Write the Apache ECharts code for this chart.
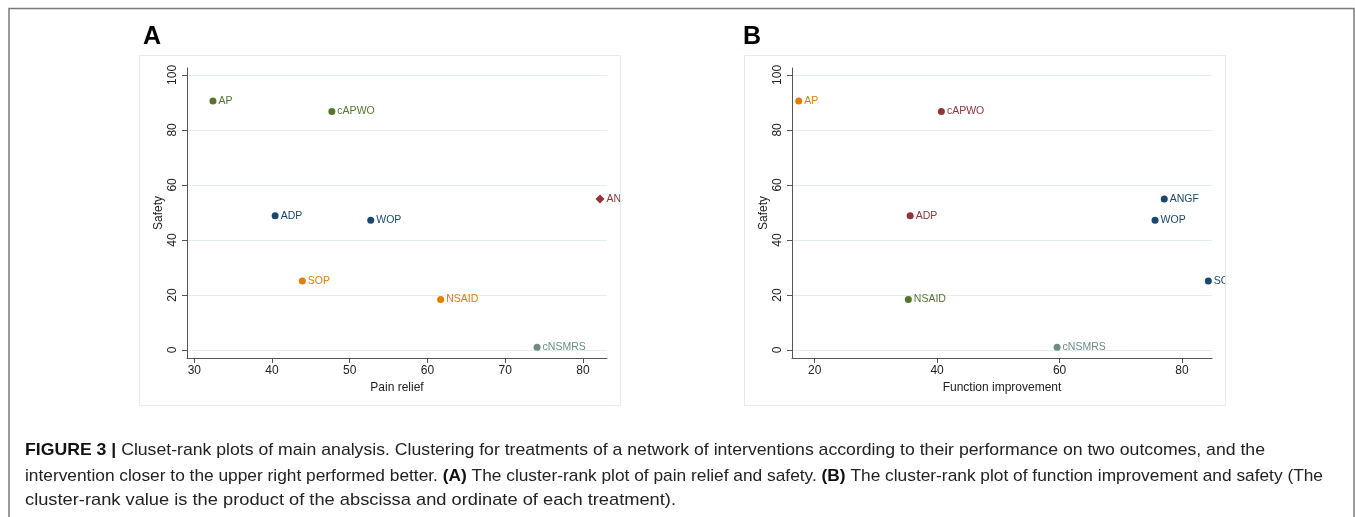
<!DOCTYPE html>
<html><head><meta charset="utf-8">
<script src="https://cdn.jsdelivr.net/npm/echarts@6/dist/echarts.min.js"></script>
<style>html,body{margin:0;padding:0;background:#fff}#c{width:1355px;height:517px}</style>
</head><body><div id="c"></div>
<script>
// ---- data ----
const treatments = ['AP', 'cAPWO', 'ANGF', 'ADP', 'WOP', 'SOP', 'NSAID', 'cNSMRS'];
const safety = [90.5, 86.7, 54.9, 48.8, 47.2, 25.1, 18.4, 1.0];
const painRelief = [32.4, 47.7, 82.2, 40.4, 52.7, 43.9, 61.7, 74.1];
const functionImprovement = [17.4, 40.7, 77.1, 35.6, 75.6, 84.3, 35.3, 59.6];
const clusterA = ['green', 'green', 'maroon', 'navy', 'navy', 'orange', 'orange', 'teal'];
const clusterB = ['orange', 'maroon', 'navy', 'maroon', 'navy', 'navy', 'green', 'teal'];
const xTicksA = [30, 40, 50, 60, 70, 80];
const xTicksB = [20, 40, 60, 80];
const yTicks = [0, 20, 40, 60, 80, 100];
const captionLines = [
  [['b', 'FIGURE 3 | '], ['n', 'Cluset-rank plots of main analysis. Clustering for treatments of a network of interventions according to their performance on two outcomes, and the']],
  [['n', 'intervention closer to the upper right performed better. '], ['b', '(A)'], ['n', ' The cluster-rank plot of pain relief and safety. '], ['b', '(B)'], ['n', ' The cluster-rank plot of function improvement and safety (The']],
  [['n', 'cluster-rank value is the product of the abscissa and ordinate of each treatment).']]
];

// ---- styles ----
const FONT = '"Liberation Sans", Arial, Helvetica, sans-serif';
const clusterColors = { navy: '#1a476f', maroon: '#90353b', green: '#55752f', orange: '#e37e00', teal: '#6e8e84' };
const symbolsA = { maroon: 'diamond' };
const symbolsB = {};

function buildSeries(xs, clusters, symbolMap, axisIndex) {
  const order = [];
  clusters.forEach(c => { if (!order.includes(c)) order.push(c); });
  return order.map(c => {
    const sym = symbolMap[c] || 'circle';
    return {
      type: 'scatter', xAxisIndex: axisIndex, yAxisIndex: axisIndex,
      symbol: sym, symbolSize: sym === 'diamond' ? 9 : 7,
      itemStyle: { color: clusterColors[c], opacity: 1 },
      label: { show: true, position: 'right', distance: 2, formatter: '{b}', color: clusterColors[c], fontSize: 10.5, fontFamily: FONT },
      emphasis: { disabled: true },
      data: treatments.map((t, i) => clusters[i] === c ? { name: t, value: [xs[i], safety[i]] } : null).filter(Boolean)
    };
  });
}

function xAxisCfg(idx, min, max, ticks, name) {
  return {
    type: 'value', gridIndex: idx, min, max, name, nameLocation: 'middle', nameGap: 18,
    nameTextStyle: { color: '#222', fontSize: 12, fontFamily: FONT },
    axisLine: { show: true, onZero: false, lineStyle: { color: '#555', width: 1 } },
    axisTick: { show: true, length: 5, customValues: ticks, lineStyle: { color: '#555' } },
    axisLabel: { customValues: ticks, color: '#222', fontSize: 12, fontFamily: FONT, margin: 7 },
    splitLine: { show: false }
  };
}
function yAxisCfg(idx) {
  return {
    type: 'value', gridIndex: idx, min: -2.9, max: 102.5, name: 'Safety', nameLocation: 'middle', nameGap: 22,
    nameTextStyle: { color: '#222', fontSize: 12, fontFamily: FONT },
    axisLine: { show: true, onZero: false, lineStyle: { color: '#555', width: 1 } },
    axisTick: { show: true, length: 5, customValues: yTicks, lineStyle: { color: '#555' } },
    axisLabel: { customValues: yTicks, rotate: 90, color: '#222', fontSize: 12, fontFamily: FONT, margin: 8 },
    splitLine: { show: true, lineStyle: { color: '#e3edf1', width: 1 } }
  };
}

// caption measurement
const mctx = document.createElement('canvas').getContext('2d');
const CAP_SIZE = 17;
function segFont(k) { return (k === 'b' ? 'bold ' : '') + CAP_SIZE + 'px ' + FONT; }
function lineWidth(line) { return line.reduce((s, [k, t]) => { mctx.font = segFont(k); return s + mctx.measureText(t).width; }, 0); }
const capTargets = [[25, 450, 1265], [25, 476, 1323], [25, 500, 676]];
const captionGraphics = captionLines.map((line, i) => {
  const [x0, y0, x1] = capTargets[i];
  const w = lineWidth(line);
  return {
    type: 'text', x: x0, y: y0, scaleX: (x1 - x0) / w, z: 110,
    style: {
      text: line.map(([k, t]) => '{' + k + '|' + t + '}').join(''),
      verticalAlign: 'middle', align: 'left',
      rich: {
        b: { fontWeight: 'bold', fontSize: CAP_SIZE, fontFamily: FONT, fill: '#111' },
        n: { fontWeight: 'normal', fontSize: CAP_SIZE, fontFamily: FONT, fill: '#222' }
      }
    }
  };
});

const chart = echarts.init(document.getElementById('c'), null, { renderer: 'canvas' });
chart.setOption({
  backgroundColor: '#fff',
  animation: false,
  grid: [
    { left: 187, right: 1355 - 607, top: 68, bottom: 517 - 358, outerBoundsMode: 'none' },
    { left: 792, right: 1355 - 1212, top: 68, bottom: 517 - 358, outerBoundsMode: 'none' }
  ],
  xAxis: [xAxisCfg(0, 29.06, 83.1, xTicksA, 'Pain relief'), xAxisCfg(1, 16.3, 84.9, xTicksB, 'Function improvement')],
  yAxis: [yAxisCfg(0), yAxisCfg(1)],
  series: [...buildSeries(painRelief, clusterA, symbolsA, 0), ...buildSeries(functionImprovement, clusterB, symbolsB, 1)],
  graphic: [
    { type: 'rect', z: 100, shape: { x: 620.5, y: 50, width: 123, height: 360 }, style: { fill: '#fff' } },
    { type: 'rect', z: 100, shape: { x: 1225.5, y: 50, width: 127, height: 360 }, style: { fill: '#fff' } },
    { type: 'rect', z: 101, shape: { x: 139.5, y: 55.5, width: 481, height: 350 }, style: { fill: 'none', stroke: '#e2edf1', lineWidth: 1 } },
    { type: 'rect', z: 101, shape: { x: 744.5, y: 55.5, width: 481, height: 350 }, style: { fill: 'none', stroke: '#e2edf1', lineWidth: 1 } },
    { type: 'polyline', z: 102, shape: { points: [[9, 517], [9, 8.5], [1354, 8.5], [1354, 517]] }, style: { fill: 'none', stroke: '#7a7a7a', lineWidth: 1.5 } },
    { type: 'text', z: 103, x: 143, y: 37, style: { text: 'A', font: 'bold 25px ' + FONT, fill: '#000', verticalAlign: 'middle' } },
    { type: 'text', z: 103, x: 743, y: 37, style: { text: 'B', font: 'bold 25px ' + FONT, fill: '#000', verticalAlign: 'middle' } },
    ...captionGraphics
  ]
});
</script>
</body></html>
